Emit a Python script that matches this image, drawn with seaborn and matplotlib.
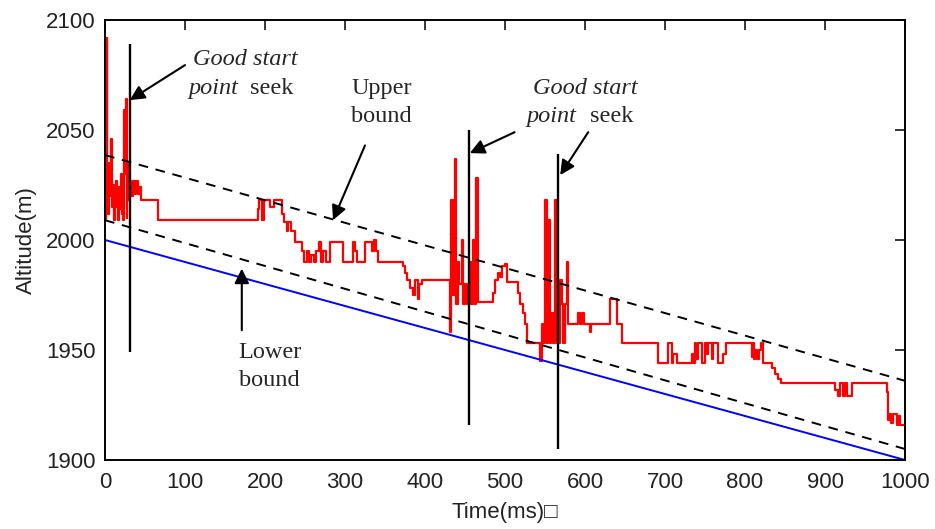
import matplotlib
matplotlib.use("Agg")
import matplotlib.pyplot as plt
import seaborn as sns
import pandas as pd

# ---------------- data ----------------
time_ms = [0, 1, 2, 3, 4, 5, 6, 7, 8, 9, 10, 11, 12, 13, 14, 15, 16, 17, 18, 19, 20,
           21, 22, 23, 24, 25, 26, 27, 28, 29, 30,
           31, 33, 35, 37, 39, 41, 43, 45, 66,
           191, 193, 196, 199, 206, 211, 221, 224, 227, 229, 233, 237, 246,
           249, 252, 255, 258, 261, 264, 267, 270, 273, 276, 281, 298, 310, 313, 315,
           325, 334, 336, 339, 341, 373, 375, 377, 381, 385, 388, 391, 393, 396,
           431, 433, 435, 437, 439, 441, 443, 446, 448, 450, 452, 456, 458, 460, 462,
           464, 466, 485, 487, 491, 494, 496, 500, 502, 516, 519, 523, 525, 527,
           544, 546, 548, 550, 552, 554, 556, 558, 560, 562, 565, 569, 571, 573, 575,
           577, 579, 591, 594, 596, 599, 606, 608, 631, 640, 646,
           691, 704, 709, 710, 715, 734, 735, 737, 739, 741, 746, 750, 752, 754, 759,
           760, 766, 773, 776, 809, 810, 811, 813, 815, 817, 820, 823, 834, 837, 841,
           845, 912, 916, 919, 923, 925, 927, 934, 977, 979, 981, 983, 985, 990, 992,
           994, 1000]
altitude_m = [2009, 2036, 2092, 2030, 2012, 2035, 2020, 2030, 2046, 2015, 2025, 2009,
              2022, 2015, 2027, 2018, 2009, 2024, 2014, 2020, 2030,
              2012, 2024, 2009, 2059, 2030, 2064, 2010, 2035, 2018, 2025,
              2027, 2020, 2027, 2021, 2027, 2021, 2024, 2018, 2009,
              2014, 2018, 2009, 2018, 2015, 2018, 2012, 2008, 2004, 2008, 2004, 1999, 1995,
              1990, 1995, 1990, 1993, 1990, 1995, 1999, 1990, 1995, 1990, 1999, 1990, 1999, 1995, 1990,
              1999, 1995, 2000, 1995, 1990, 1988, 1985, 1982, 1978, 1975, 1982, 1973, 1980, 1982,
              1958, 2018, 1975, 2037, 1971, 1990, 1980, 2000, 1971, 1980, 1971, 1990, 1971, 2000, 1971,
              2028, 1972, 1976, 1982, 1985, 1983, 1988, 1989, 1981, 1976, 1971, 1967, 1962, 1953,
              1945, 1962, 1953, 2018, 1953, 2009, 1953, 1967, 1953, 2018, 1953, 1982, 1971, 1953, 1971,
              1990, 1962, 1967, 1962, 1967, 1962, 1958, 1962, 1973, 1962, 1953,
              1944, 1953, 1944, 1948, 1944, 1948, 1944, 1953, 1946, 1953, 1944, 1953, 1948, 1953, 1946,
              1953, 1944, 1948, 1953, 1947, 1953, 1946, 1950, 1946, 1950, 1953, 1944, 1942, 1939, 1937,
              1935, 1932, 1929, 1935, 1929, 1935, 1929, 1935, 1931, 1918, 1921, 1917, 1921, 1916, 1920,
              1916, 1916]

bound_t = [0, 1000]
lower_bound = [2000, 1900]
lower_dashed = [2009, 1905]
upper_dashed = [2038.6, 1936]

marker_t = [31, 455, 566]
marker_lo = [1949, 1916, 1905]
marker_hi = [2089, 2050, 2039]

x_ticks = [0, 100, 200, 300, 400, 500, 600, 700, 800, 900, 1000]
y_ticks = [1900, 1950, 2000, 2050, 2100]

# ---------------- plot ----------------
sns.set_style("white")
plt.rcParams["font.family"] = ["Liberation Sans", "DejaVu Sans"]

fig = plt.figure(figsize=(9.35, 5.29), dpi=100)
ax = fig.add_axes([105 / 935, 69 / 529, 800 / 935, 440 / 529])

sig = pd.DataFrame({"t": time_ms, "alt": altitude_m})
sns.lineplot(data=sig, x="t", y="alt", ax=ax, color="#ff0000", lw=1.6,
             drawstyle="steps-post", estimator=None, sort=False)

bnd = pd.DataFrame({"t": bound_t, "low": lower_bound, "ld": lower_dashed, "ud": upper_dashed})
sns.lineplot(data=bnd, x="t", y="low", ax=ax, color="#0000ff", lw=1.4)
sns.lineplot(data=bnd, x="t", y="ld", ax=ax, color="black", lw=1.4,
             linestyle=(0, (5, 4)))
sns.lineplot(data=bnd, x="t", y="ud", ax=ax, color="black", lw=1.4,
             linestyle=(0, (5, 4)))

ax.vlines(marker_t, marker_lo, marker_hi, colors="black", lw=1.7)

ax.set_xlim(0, 1000)
ax.set_ylim(1900, 2100)
ax.set_xticks(x_ticks)
ax.set_yticks(y_ticks)
ax.tick_params(direction="in", length=7, width=1.1, top=True, right=True,
               labelsize=16, colors="black", labelcolor="#222222")
ax.tick_params(axis="x", pad=9)
ax.tick_params(axis="y", pad=7)
for s in ax.spines.values():
    s.set_color("black")
    s.set_linewidth(1.4)
ax.set_xlabel("Time(ms)\u25a1", fontsize=16, labelpad=6, color="#222222")
ax.set_ylabel("Altitude(m)", fontsize=16, labelpad=6, color="#222222")

serif = ["Liberation Serif", "DejaVu Serif"]
fs = 17.5
# annotation 1
ax.text(110, 2082, "Good start", fontsize=fs, family=serif, style="italic", ha="left", va="center")
ax.text(104, 2069, "point", fontsize=fs, family=serif, style="italic", ha="left", va="center")
ax.text(181, 2069, "seek", fontsize=fs, family=serif, ha="left", va="center")
# upper bound
ax.text(346, 2069, "Upper", fontsize=fs, family=serif, ha="center", va="center")
ax.text(346, 2056, "bound", fontsize=fs, family=serif, ha="center", va="center")
# annotation 2
ax.text(535, 2069, "Good start", fontsize=fs, family=serif, style="italic", ha="left", va="center")
ax.text(527, 2056, "point", fontsize=fs, family=serif, style="italic", ha="left", va="center")
ax.text(606, 2056, "seek", fontsize=fs, family=serif, ha="left", va="center")
# lower bound
ax.text(206, 1949, "Lower", fontsize=fs, family=serif, ha="center", va="center")
ax.text(206, 1936, "bound", fontsize=fs, family=serif, ha="center", va="center")

ap = dict(arrowstyle="-|>", color="black", lw=1.5, mutation_scale=22, shrinkA=0, shrinkB=0)
ax.annotate("", xy=(31, 2063.6), xytext=(100, 2079.5), arrowprops=ap)
ax.annotate("", xy=(285, 2009), xytext=(325, 2043), arrowprops=ap)
ax.annotate("", xy=(171, 1987), xytext=(171, 1959), arrowprops=ap)
ax.annotate("", xy=(456, 2039.5), xytext=(512, 2049), arrowprops=ap)
ax.annotate("", xy=(569, 2029.5), xytext=(604, 2049), arrowprops=ap)

fig.savefig("out.png", dpi=100)
